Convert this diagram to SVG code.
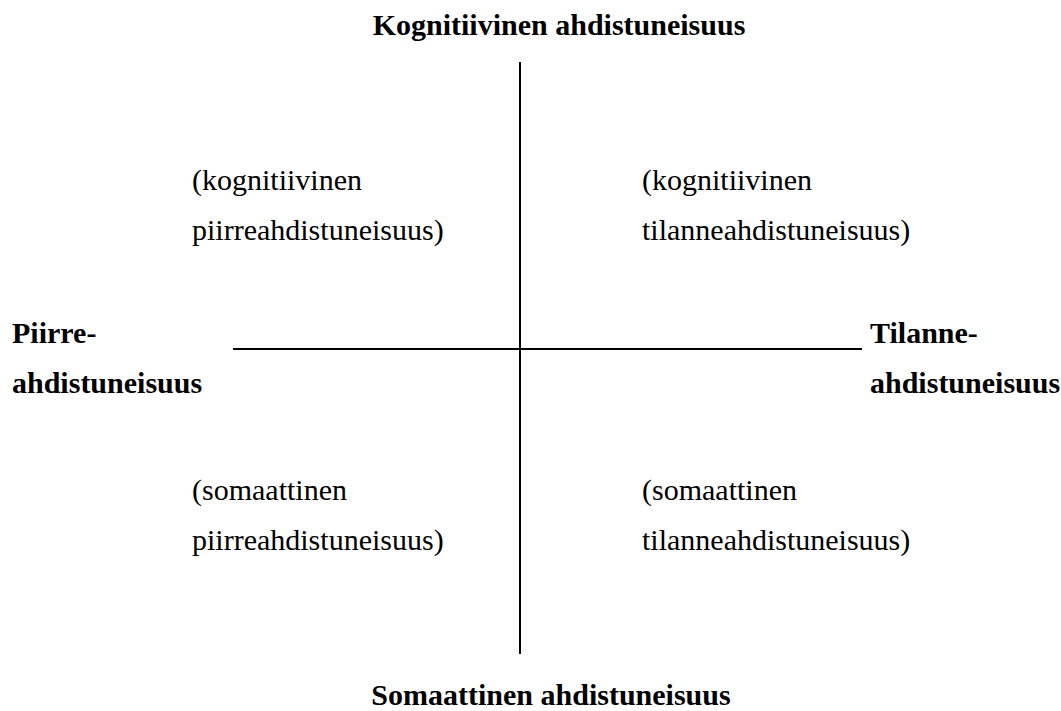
<svg xmlns="http://www.w3.org/2000/svg" width="1061" height="711" viewBox="0 0 1061 711" font-family="'Liberation Serif', Tinos, 'Times New Roman', Times, 'Nimbus Roman', serif">
  <style>
    text { font-family: 'Liberation Serif', Tinos, 'Times New Roman', Times, 'Nimbus Roman', serif; font-size: 30px; fill: #000; }
    .axis { font-weight: bold; }
    .axes line { stroke: #000; stroke-width: 2; }
  </style>
  <rect width="1061" height="711" fill="#fff"/>

  <!-- axes -->
  <g id="connectors" class="axes">
    <line x1="520" y1="62" x2="520" y2="654"/>
    <line x1="233" y1="349" x2="862" y2="349"/>
  </g>

  <!-- axis end labels -->
  <g id="top-label">
    <text class="axis" x="559" y="35" text-anchor="middle">Kognitiivinen ahdistuneisuus</text>
  </g>
  <g id="bottom-label">
    <text class="axis" x="551" y="705" text-anchor="middle">Somaattinen ahdistuneisuus</text>
  </g>
  <g id="left-label">
    <text class="axis" x="12" y="343">Piirre-</text>
    <text class="axis" x="12" y="393">ahdistuneisuus</text>
  </g>
  <g id="right-label">
    <text class="axis" x="870" y="343">Tilanne-</text>
    <text class="axis" x="870" y="393">ahdistuneisuus</text>
  </g>

  <!-- quadrant labels -->
  <g id="q-top-left">
    <text x="192" y="190">(kognitiivinen</text>
    <text x="192" y="240">piirreahdistuneisuus)</text>
  </g>
  <g id="q-top-right">
    <text x="642" y="190">(kognitiivinen</text>
    <text x="642" y="240">tilanneahdistuneisuus)</text>
  </g>
  <g id="q-bottom-left">
    <text x="192" y="500">(somaattinen</text>
    <text x="192" y="550">piirreahdistuneisuus)</text>
  </g>
  <g id="q-bottom-right">
    <text x="642" y="500">(somaattinen</text>
    <text x="642" y="550">tilanneahdistuneisuus)</text>
  </g>
</svg>
